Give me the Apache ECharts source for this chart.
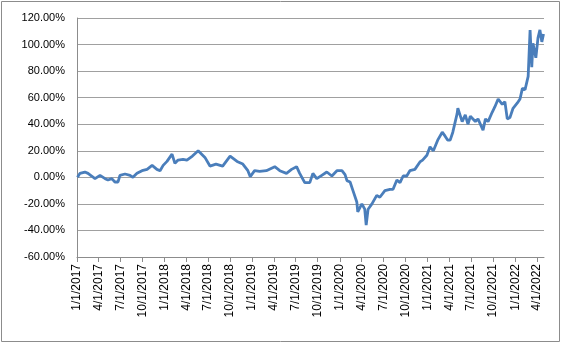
<!DOCTYPE html>
<html>
<head>
<meta charset="utf-8">
<script src="https://cdn.jsdelivr.net/npm/echarts@6/dist/echarts.min.js"></script>
<style>
html,body{margin:0;padding:0;background:#fff;}
#chart{width:565px;height:344px;}
</style>
</head>
<body>
<div id="chart"></div>
<script>
var dates = [
"2017-01-03","2017-01-13","2017-02-03","2017-02-16","2017-03-03","2017-03-17","2017-04-07","2017-04-28",
"2017-05-10","2017-05-26","2017-06-08","2017-06-21","2017-06-29","2017-07-20","2017-08-10","2017-08-22",
"2017-09-08","2017-09-29","2017-10-20","2017-11-10","2017-11-30","2017-12-13","2017-12-26","2018-01-11",
"2018-02-01","2018-02-13","2018-02-26","2018-03-19","2018-04-04","2018-04-27","2018-05-21","2018-06-18",
"2018-07-09","2018-08-03","2018-08-31","2018-10-01","2018-10-30","2018-11-23","2018-12-14","2018-12-24",
"2019-01-11","2019-02-01","2019-03-01","2019-04-05","2019-04-26","2019-05-24","2019-06-14","2019-07-05",
"2019-07-18","2019-08-08","2019-08-29","2019-09-11","2019-09-27","2019-10-18","2019-11-08","2019-11-29",
"2019-12-20","2020-01-10","2020-01-23","2020-01-31","2020-02-13","2020-02-25","2020-03-12","2020-03-16",
"2020-04-02","2020-04-14","2020-04-20","2020-04-28","2020-05-14","2020-06-03","2020-06-16","2020-07-07",
"2020-07-28","2020-08-10","2020-08-26","2020-09-08","2020-09-21","2020-10-06","2020-10-19","2020-11-09",
"2020-11-30","2020-12-11","2020-12-29","2021-01-11","2021-01-25","2021-02-12","2021-03-03","2021-03-15",
"2021-03-26","2021-04-05","2021-04-16","2021-05-04","2021-05-07","2021-05-25","2021-06-07","2021-06-18",
"2021-06-28","2021-07-19","2021-07-30","2021-08-20","2021-08-30","2021-09-10","2021-09-27","2021-10-08",
"2021-10-22","2021-11-08","2021-11-19","2021-11-29","2021-12-10","2021-12-23","2022-01-10","2022-01-21",
"2022-01-31","2022-02-11","2022-02-24","2022-03-04","2022-03-11","2022-03-16","2022-03-28","2022-04-06",
"2022-04-14","2022-04-22","2022-04-29"
];
// Cumulative return in percent
var values = [
0,3,4,3,1,-1,1.5,-1,
-2,-1,-3.5,-3.5,1.5,2.5,1.5,0,
3,5,6,9,6,5,9,12,
17.5,10.5,13,13.5,13,16,20,15,
8.5,10,8.5,16,12,10,5,0.5,
5,4.5,5,8,5,3,6,8,
3,-4,-4,3,-1,1.5,4,1,
5,5,2,-2.5,-3.5,-10,-18.6,-26,
-20,-24,-36,-24,-20,-13.6,-15,-10,
-9,-9,-2,-4,1,1,5,6,
11.6,13,16.6,23,20,28,34,31,
28,28,34,48,52,42,47,40,
46,42,44,35.5,44,42,49,53,
59,55,57,44,45,52,56,59,
67,66,76,111,83,101,90,105,
111,102,108
];
// Quarterly tick dates
var tickDates = [
"2017-01-01","2017-04-01","2017-07-01","2017-10-01",
"2018-01-01","2018-04-01","2018-07-01","2018-10-01",
"2019-01-01","2019-04-01","2019-07-01","2019-10-01",
"2020-01-01","2020-04-01","2020-07-01","2020-10-01",
"2021-01-01","2021-04-01","2021-07-01","2021-10-01",
"2022-01-01","2022-04-01"
];
var axisStart = "2017-01-01";
var axisEnd = "2022-05-01";
var yMin = -60, yMax = 120, yStep = 20;

function ts(s){ var p = s.split('-'); return new Date(+p[0], +p[1]-1, +p[2]).getTime(); }
function fmtDate(v){ var d = new Date(v); return (d.getMonth()+1)+'/'+d.getDate()+'/'+d.getFullYear(); }

var chart = echarts.init(document.getElementById('chart'), null, {renderer:'canvas'});
var tickVals = tickDates.map(ts);
chart.setOption({
  animation: false,
  backgroundColor: '#ffffff',
  textStyle: {fontFamily: 'Liberation Sans, Arial, sans-serif'},
  graphic: [{
    type: 'rect', shape: {x: 1.5, y: 1.5, width: 558, height: 340},
    style: {fill: 'none', stroke: '#8c8c8c', lineWidth: 1}, silent: true, z: -1
  }],
  grid: {left: 77, top: 18, width: 467, height: 239, containLabel: false, outerBoundsMode: 'none'},
  xAxis: {
    type: 'value',
    min: ts(axisStart), max: ts(axisEnd),
    axisLine: {show: true, onZero: false, lineStyle: {color: '#8c8c8c', width: 1}},
    axisTick: {show: true, length: 5, lineStyle: {color: '#8c8c8c'}, customValues: tickVals},
    axisLabel: {
      show: true, rotate: 90, margin: 7, color: '#000', fontSize: 12,
      fontFamily: 'Liberation Sans, Arial, sans-serif',
      customValues: tickVals, hideOverlap: false, showMinLabel: true, showMaxLabel: true,
      formatter: function(v){ return fmtDate(v); }
    },
    splitLine: {show: false}
  },
  yAxis: {
    type: 'value', min: yMin, max: yMax, interval: yStep,
    axisLine: {show: true, onZero: false, lineStyle: {color: '#8c8c8c', width: 1}},
    axisTick: {show: false},
    axisLabel: {
      color: '#000', fontSize: 11, margin: 12,
      fontFamily: 'Liberation Sans, Arial, sans-serif',
      formatter: function(v){ return v.toFixed(2) + '%'; }
    },
    splitLine: {show: true, lineStyle: {color: '#a0a0a0', width: 1}}
  },
  series: [{
    type: 'line',
    data: dates.map(function(d, i){ return [ts(d), values[i]]; }),
    showSymbol: false, smooth: false,
    lineStyle: {color: '#4a7ebb', width: 2.8},
    itemStyle: {color: '#4a7ebb'}
  }]
});
</script>
</body>
</html>
